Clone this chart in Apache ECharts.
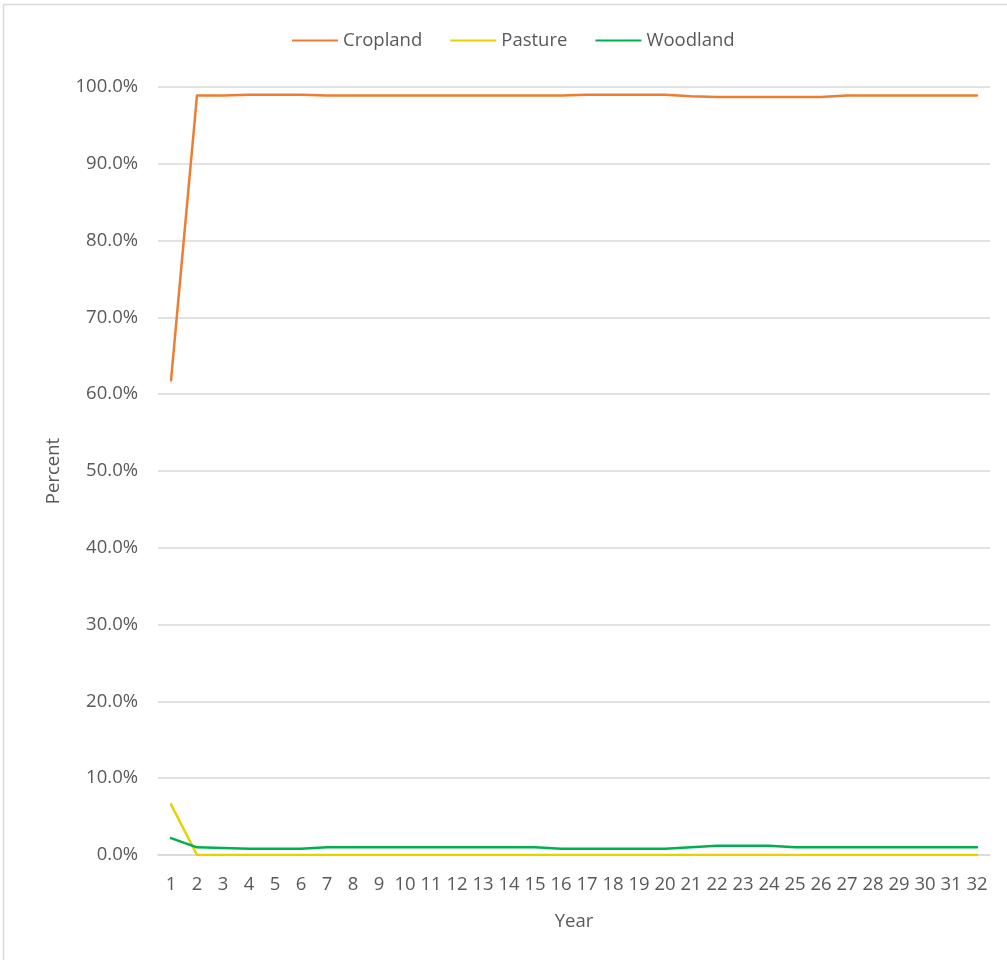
<!DOCTYPE html>
<html>
<head>
<meta charset="utf-8">
<title>Land use share by year</title>
<script src="https://cdn.jsdelivr.net/npm/echarts@6/dist/echarts.min.js"></script>
<style>
  html, body { margin: 0; padding: 0; background: #ffffff; }
  #chart { width: 1007px; height: 960px; }
</style>
</head>
<body>
<div id="chart"></div>
<script>
// Years 1..32
const years = [];
for (let i = 1; i <= 32; i++) years.push(String(i));

// Share of land in each use, percent
const cropland = [61.8, 98.9, 98.9, 99.0, 99.0, 99.0, 98.9, 98.9, 98.9, 98.9,
                  98.9, 98.9, 98.9, 98.9, 98.9, 98.9, 99.0, 99.0, 99.0, 99.0,
                  98.8, 98.7, 98.7, 98.7, 98.7, 98.7, 98.9, 98.9, 98.9, 98.9,
                  98.9, 98.9];
const pasture  = [6.6, 0.0, 0.0, 0.0, 0.0, 0.0, 0.0, 0.0, 0.0, 0.0,
                  0.0, 0.0, 0.0, 0.0, 0.0, 0.0, 0.0, 0.0, 0.0, 0.0,
                  0.0, 0.0, 0.0, 0.0, 0.0, 0.0, 0.0, 0.0, 0.0, 0.0,
                  0.0, 0.0];
const woodland = [2.2, 1.0, 0.9, 0.8, 0.8, 0.8, 1.0, 1.0, 1.0, 1.0,
                  1.0, 1.0, 1.0, 1.0, 1.0, 0.8, 0.8, 0.8, 0.8, 0.8,
                  1.0, 1.2, 1.2, 1.2, 1.0, 1.0, 1.0, 1.0, 1.0, 1.0,
                  1.0, 1.0];

const FONT = '"Open Sans", "Noto Sans", sans-serif';
const TEXT = '#595959';
const FS = 18.5;

const chart = echarts.init(document.getElementById('chart'), null, { renderer: 'canvas' });

function lineSeries(name, data, color) {
  return {
    name: name,
    type: 'line',
    data: data,
    symbol: 'none',
    smooth: false,
    lineStyle: { color: color, width: 2.5, cap: 'round', join: 'round' },
    itemStyle: { color: color },
    emphasis: { disabled: true }
  };
}

chart.setOption({
  animation: false,
  backgroundColor: '#ffffff',
  textStyle: { fontFamily: FONT, color: TEXT },
  graphic: [{
    type: 'rect',
    shape: { x: 3.5, y: 4.5, width: 1200, height: 1200 },
    style: { fill: 'none', stroke: '#D9D9D9', lineWidth: 1.5 },
    silent: true,
    z: -10
  }],
  legend: {
    left: 287,
    top: 26,
    itemWidth: 46,
    itemHeight: 14,
    itemGap: 28,
    icon: 'path://M0,6 L46,6 L46,8 L0,8 Z',
    textStyle: { fontFamily: FONT, fontSize: FS, color: TEXT },
    data: ['Cropland', 'Pasture', 'Woodland']
  },
  grid: { left: 158, right: 17, top: 87, bottom: 105, containLabel: false },
  xAxis: {
    type: 'category',
    data: years,
    boundaryGap: true,
    name: 'Year',
    nameLocation: 'middle',
    nameGap: 57,
    nameTextStyle: { fontFamily: FONT, fontSize: FS, color: TEXT },
    axisLine: { show: true, lineStyle: { color: '#D9D9D9', width: 1.5 } },
    axisTick: { show: false },
    axisLabel: { interval: 0, margin: 20, fontFamily: FONT, fontSize: FS, color: TEXT },
    splitLine: { show: false }
  },
  yAxis: {
    type: 'value',
    min: 0,
    max: 100,
    interval: 10,
    name: 'Percent',
    nameLocation: 'middle',
    nameGap: 95,
    nameRotate: 90,
    nameTextStyle: { fontFamily: FONT, fontSize: FS, color: TEXT },
    axisLine: { show: false },
    axisTick: { show: false },
    axisLabel: {
      margin: 20,
      fontFamily: FONT, fontSize: FS, color: TEXT,
      formatter: v => v.toFixed(1) + '%'
    },
    splitLine: { show: true, lineStyle: { color: '#D9D9D9', width: 1.5 } }
  },
  series: [
    lineSeries('Cropland', cropland, '#ED7D31'),
    lineSeries('Pasture', pasture, '#E3D400'),
    lineSeries('Woodland', woodland, '#00B050')
  ]
});
</script>
</body>
</html>
